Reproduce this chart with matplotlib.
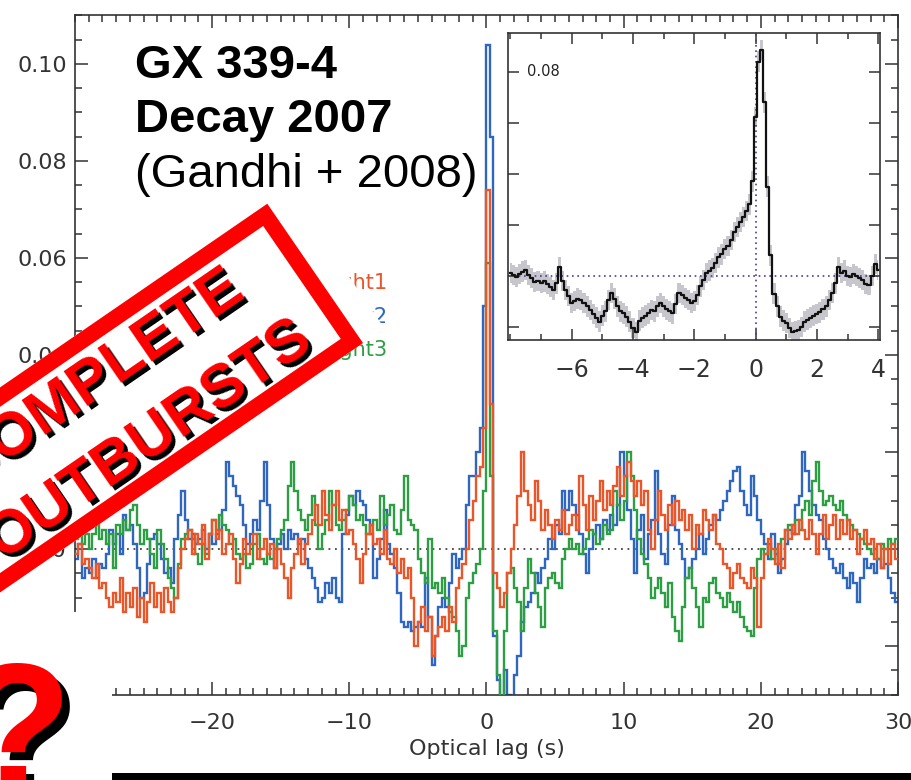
import numpy as np
import matplotlib
matplotlib.use("Agg")
import matplotlib.pyplot as plt
from matplotlib.patches import Rectangle
from matplotlib.ticker import MultipleLocator, FixedLocator, FuncFormatter
from matplotlib.transforms import blended_transform_factory

# ---- optical/X-ray cross-correlation functions (units of 1e-3), 0.25 s bins ----
lag_start, lag_step = -30.0, 0.25

night1 = [
    -1, 1, -3, -2, -4, -6, -3, -8, -7, -10, -12, -9, -11, -6, -13, -9,
    -12, -8, -14, -10, -15, -11, -7, -12, -9, -13, -8, -11, -13, -10, -4, 0,
    2, 4, -1, 3, 1, 5, -2, 3, 6, 2, 4, -1, 1, 3, -2, -7,
    -3, 2, -1, 1, 3, -2, 0, 2, -1, 1, -4, 0, -3, -6, -10, -4,
    -1, 2, -3, 1, 3, 6, 9, 5, 12, 7, 4, 9, 12, 6, 8, 3,
    4, 1, -2, -7, -1, 3, 5, 1, 2, -1, 4, -2, -3, 0, -5, -2,
    -6, -4, -10, -20, -15, -12, -17, -14, -22, -18, -16, -14, -17, -12, -15, -8,
    -6, -3, 0, 6, 10, 15, 17, 25, 74, 30, -5, -8, -12, -9, -5, 0,
    5, 11, 20, 12, 9, 6, 14, 10, 4, 8, 5, 2, 6, 4, 8, 3,
    5, 7, 4, 15, 9, 4, 11, 6, 10, 14, 8, 12, 9, 13, 17, 11,
    15, 18, 14, 11, 14, 9, 12, 4, 0, 6, 12, 7, 4, 9, 5, 10,
    6, 8, 4, 7, 0, 5, 3, 8, 6, 4, 7, 1, 0, -3, -4, -8,
    -5, -3, -6, -7, -8, -4, -6, -16, -6, -1, 2, 0, -3, 1, -4, 4,
    2, 5, 3, 6, 4, 2, 6, 3, -1, 3, 7, 2, 5, 7, 2, 6,
    3, 6, 2, 4, -1, 2, 4, 1, 2, -2, 1, -4, 0, -3, 1, -2,
]

night2 = [
    -2, 1, -6, -4, -5, -2, -6, -3, -4, -1, 4, 1, 3, -1, 7, 4,
    5, 1, -4, -10, -9, -3, 2, 3, 1, -2, -5, -4, -7, 2, 7, 12,
    6, 2, 3, 1, 2, 4, 0, 3, 1, 3, 4, 8, 18, 15, 13, 11,
    9, 5, 1, 3, 6, 4, 10, 18, 9, 2, -4, 1, 3, 0, 4, 2,
    3, 1, 2, -2, -4, -6, -8, -11, -10, -7, -9, -6, -10, -11, 3, 7,
    11, 9, 12, 10, 9, 6, 3, -6, -2, 2, 8, 1, -1, -4, -9, -15,
    -16, -15, -17, -16, -15, -16, -6, -14, -24, -18, -12, -10, -12, -7, -1, -4,
    -2, 0, 9, 15, 15, 20, 25, 50, 104, 85, -18, -27, -31, -25, -30, -31,
    -26, -22, -15, -12, -11, -9, -5, -7, -4, -2, 2, 0, 5, 3, 12, 8,
    12, 9, 7, 3, -1, -5, 0, 3, 5, 2, 6, 4, 7, 5, 9, 20,
    15, 8, 2, -5, 4, 7, -2, 3, 6, 16, 3, -1, -3, 5, 11, 4,
    1, -2, -6, -4, -2, 0, 3, -1, 2, 5, 7, 6, 8, 10, 12, 14,
    16, 17, 12, 9, 7, 15, 11, 6, 3, 1, -2, 3, -1, -5, -2, 1,
    4, 3, 9, 11, 20, 16, 12, 9, 7, 6, 2, 0, -2, -4, -5, -3,
    -6, -8, -5, -7, -11, -6, -2, -4, -3, -5, -2, -4, -3, -6, -9, -11,
]

night3 = [
    2, 4, 1, 3, 0, 3, 5, 2, 4, 1, 3, -4, 5, 3, 6, 4,
    8, 9, 5, 1, 4, 2, -1, -4, 4, 1, -2, -6, -8, -10, -3, 2,
    3, 4, 2, -1, -3, 1, -1, 3, 6, 4, 7, 5, 4, 1, 2, -1,
    -2, -1, -4, -3, 1, 3, -2, -3, -1, -2, 0, 2, 4, 6, 13, 18,
    12, 8, 6, 4, 7, 11, 5, 0, 3, 6, 12, 9, 5, 4, 6, 8,
    11, 9, 6, 7, 5, 3, 5, 6, 4, 11, 5, 7, 9, 4, 3, 8,
    15, 6, 5, 4, -2, -5, -7, 2, -8, -7, -9, -6, -10, -13, -14, -17,
    -22, -20, -10, -7, -5, -3, 0, 12, 59, 15, -17, -26, -31, -17, -5, -4,
    -8, -11, -17, -8, -2, -5, -9, -12, -16, -8, -6, -5, -7, -8, -2, 0,
    2, 0, 1, -1, 0, 2, 4, 3, 1, 2, 5, 3, 4, 12, 9, 6,
    10, 20, 15, 8, 2, -1, -3, -6, -10, -8, -6, -9, -12, -7, -14, -17,
    -19, -12, -6, -4, -8, -12, -16, -10, -11, -7, -6, -9, -10, -12, -9, -11,
    -13, -11, -14, -16, -17, -18, -8, -2, 0, -1, 1, -2, 0, -3, 2, 4,
    5, 3, 6, 4, 8, 10, 7, 14, 18, 12, 9, 10, 11, 9, 8, 10,
    7, 6, 5, 4, 3, 2, 1, 0, -1, 0, -2, 1, 0, 2, 1, 2,
]

night_labels = ["Night1", "Night2", "Night3"]
night_colors = ["#E9562A", "#2F67C0", "#2E9E45"]

main_xticks = [-20, -10, 0, 10, 20, 30]
main_yticks = [-0.02, 0.00, 0.02, 0.04, 0.06, 0.08, 0.10]

# ---- inset: averaged CCF around zero lag (units of 1e-4), 0.1 s sampling ----
inset_start, inset_step = -8.0, 0.1
inset_ccf = [
    405, 402, 398, 404, 408, 411, 402, 395, 388, 390,
    386, 389, 384, 378, 372, 385, 417, 390, 372, 360,
    346, 351, 355, 352, 347, 340, 333, 325, 318, 310,
    322, 330, 352, 366, 355, 340, 330, 326, 320, 310,
    298, 290, 312, 318, 322, 326, 333, 330, 340, 346,
    340, 334, 330, 326, 345, 366, 362, 356, 352, 346,
    350, 362, 379, 392, 405, 410, 415, 425, 436, 442,
    452, 458, 470, 486, 495, 505, 515, 527, 540, 585,
    711, 820, 843, 740, 575, 440, 365, 340, 320, 312,
    307, 298, 290, 292, 293, 300, 310, 314, 318, 322,
    325, 328, 334, 340, 352, 366, 385, 417, 405, 410,
    400, 398, 404, 400, 395, 392, 384, 382, 400, 423,
    411,
]
inset_err = 20          # half-width of the uncertainty band, units of 1e-4
inset_ref_level = 0.04  # dotted reference level in the inset
inset_xticks = [-6, -4, -2, 0, 2, 4]

W, H = 912, 780
ink = "#333333"
tick_font = "DejaVu Sans"


def minus_fmt(fmt, keep_negative=True):
    def f(v, p):
        if not keep_negative and v < -1e-9:
            return ""
        return fmt.format(v).replace("-", "\u2212")
    return FuncFormatter(f)


fig = plt.figure(figsize=(W / 100, H / 100), dpi=100)
fig.patch.set_facecolor("white")

# ---------------- main panel ----------------
ax = fig.add_axes([75 / W, 1 - 695 / H, (898 - 75) / W, (695 - 15) / H])
ax.set_xlim(-30, 30)
ax.set_ylim(-0.0301, 0.1101)

edges = lag_start + lag_step * np.arange(len(night1) + 1)
for vals, col, z in zip([night2, night3, night1],
                        [night_colors[1], night_colors[2], night_colors[0]], [2, 3, 4]):
    ax.stairs(np.asarray(vals) * 1e-3, edges, baseline=None, color=col, lw=1.7, zorder=z)

ax.axhline(0.0, color="#444444", ls=(0, (1, 2.6)), lw=1.3, zorder=1)

ax.xaxis.set_major_locator(FixedLocator(main_xticks))
ax.xaxis.set_minor_locator(MultipleLocator(1))
ax.yaxis.set_major_locator(FixedLocator(main_yticks))
ax.yaxis.set_minor_locator(MultipleLocator(0.005))
ax.yaxis.set_major_formatter(minus_fmt("{:.2f}", keep_negative=False))
ax.xaxis.set_major_formatter(minus_fmt("{:.0f}"))
ax.tick_params(which="both", direction="in", top=True, right=True, color=ink, width=1.1,
               labelsize=16, labelcolor=ink)
ax.tick_params(which="major", length=9.5)
ax.tick_params(which="minor", length=5)
ax.tick_params(axis="x", pad=13)
ax.tick_params(axis="y", pad=6)
for lab in ax.get_xticklabels() + ax.get_yticklabels():
    lab.set_family(tick_font)
for sp in ax.spines.values():
    sp.set_color(ink)
    sp.set_linewidth(1.2)
ax.set_xlabel("Optical lag (s)", fontsize=16, color=ink, labelpad=4, family=tick_font)

# ---------------- inset ----------------
axi = fig.add_axes([508 / W, 1 - 340 / H, (880 - 508) / W, (340 - 33) / H], zorder=5)
axi.set_xlim(-8.08, 4.06)
axi.set_ylim(0.0274, 0.0876)
lag_in = inset_start + inset_step * np.arange(len(inset_ccf))
ccf_in = np.asarray(inset_ccf) * 1e-4
axi.fill_between(lag_in, ccf_in - inset_err * 1e-4, ccf_in + inset_err * 1e-4,
                 step="mid", color="#c6c6cc", lw=0, zorder=1)
axi.plot(lag_in, ccf_in, drawstyle="steps-mid", color="#111111", lw=1.6, zorder=3)
axi.axvline(0, color="#4a3d8f", ls=(0, (1, 2.2)), lw=1.2, zorder=2)
axi.axhline(inset_ref_level, color="#4a3d8f", ls=(0, (1, 2.2)), lw=1.2, zorder=2)
axi.xaxis.set_major_locator(FixedLocator(inset_xticks))
axi.xaxis.set_minor_locator(MultipleLocator(1))
axi.yaxis.set_major_locator(MultipleLocator(0.01))
axi.xaxis.set_major_formatter(minus_fmt("{:.0f}"))
axi.tick_params(which="both", direction="in", top=True, right=True, color=ink, width=1.1,
                labelsize=17, labelcolor=ink, labelleft=False)
axi.tick_params(which="major", length=8)
axi.tick_params(which="minor", length=4)
axi.tick_params(axis="x", pad=13)
for sp in axi.spines.values():
    sp.set_color(ink)
    sp.set_linewidth(1.2)
axi.text(0.052, 0.08, "0.08", transform=blended_transform_factory(axi.transAxes, axi.transData),
         fontsize=10.5, color="#222222", va="center", ha="left", family=tick_font)

# ---------------- annotations ----------------
title_font = "Liberation Sans"
fig.text(135 / W, 1 - 78 / H, "GX 339-4", fontsize=34, fontweight="bold", family=title_font,
         va="baseline", ha="left")
fig.text(135 / W, 1 - 132 / H, "Decay 2007", fontsize=34, fontweight="bold", family=title_font,
         va="baseline", ha="left")
fig.text(135 / W, 1 - 187 / H, "(Gandhi + 2008)", fontsize=34, family=title_font,
         va="baseline", ha="left")

for lbl, col, yy in zip(night_labels, night_colors, [283, 317, 350]):
    fig.text(387 / W, 1 - yy / H, lbl, color=col, fontsize=15, ha="right", va="center",
             family=tick_font)

# ---------------- overlay: stamp, question mark, bar ----------------
ov = fig.add_axes([0, 0, 1, 1], zorder=10)
ov.set_xlim(0, W)
ov.set_ylim(0, H)
ov.axis("off")
ov.patch.set_alpha(0)

stamp_red = "#ff0000"
ang = 34.5
u = np.array([np.cos(np.radians(ang)), np.sin(np.radians(ang))])
v = np.array([-u[1], u[0]])
outer_lr = np.array([363.0, H - 343.0])
outer_w, outer_h, border, margin = 470.0, 169.0, 16.0, 26.0

# white card behind the stamp, with a blank strip past its right end
card_ll = outer_lr + u * margin - u * (outer_w + margin)
ov.add_patch(Rectangle(card_ll, outer_w + margin, outer_h, angle=ang, rotation_point="xy",
                       facecolor="white", edgecolor="none", zorder=0.5))

path_lr = outer_lr - u * border / 2 + v * border / 2
path_ll = path_lr - u * (outer_w - border)
ov.add_patch(Rectangle(path_ll, outer_w - border, outer_h - border, angle=ang,
                       rotation_point="xy", facecolor="white", edgecolor=stamp_red,
                       lw=border * 0.72, joinstyle="miter", zorder=1))

for word, cx, cy in [("COMPLETE", 99, 379), ("OUTBURSTS", 150, 440)]:
    for dx, dy, col, z in [(4, -4, "black", 2), (0, 0, stamp_red, 3)]:
        ov.text(cx + dx, H - cy + dy, word, rotation=ang, rotation_mode="anchor",
                ha="center", va="center", fontsize=44, fontweight="bold",
                family=title_font, color=col, zorder=z)

# white patch in the lower-left corner and dark bar along the bottom
ov.add_patch(Rectangle((0, 0), 112, H - 612, facecolor="white", edgecolor="none", zorder=4))
ov.add_patch(Rectangle((112, 0), W - 112, 7, facecolor="black", edgecolor="none", zorder=4))
for dx, dy, col, z in [(8, -8, "black", 5), (0, 0, stamp_red, 6)]:
    ov.text(72 + dx, -10 + dy, "?", ha="right", va="baseline", fontsize=130,
            fontweight="bold", family=title_font, color=col, zorder=z)

fig.savefig("out.png", dpi=100, facecolor="white")
